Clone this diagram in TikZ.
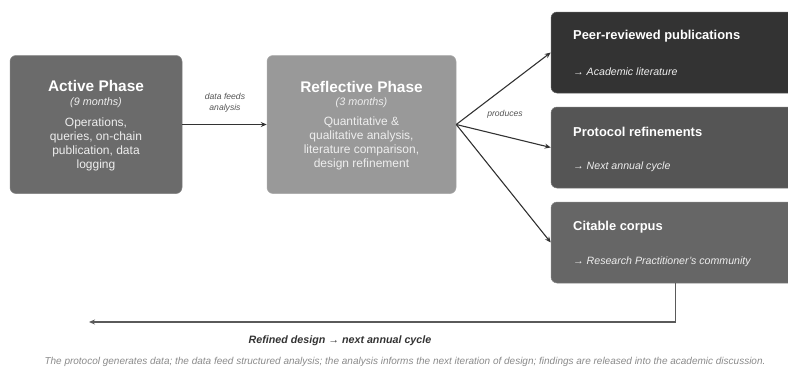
\documentclass[tikz,border=0pt]{standalone}
\usepackage{fontspec}
\setmainfont{Liberation Sans}
\usetikzlibrary{arrows.meta}
\definecolor{cActive}{HTML}{6B6B6B}
\definecolor{cReflect}{HTML}{999999}
\definecolor{cPeer}{HTML}{333333}
\definecolor{cProto}{HTML}{555555}
\definecolor{cCite}{HTML}{666666}
\definecolor{cArrow}{HTML}{333333}
\definecolor{cFeed}{HTML}{5A5A5A}
\definecolor{cLabel}{HTML}{555555}
\definecolor{cCaption}{HTML}{8A8A8A}
\definecolor{cSoft}{HTML}{EEEEEE}
\tikzset{
  phasebox/.style={rectangle, rounded corners=6pt, inner sep=0pt, draw=#1!85!white, line width=0.5pt, fill=#1},
  outbox/.style={rectangle, rounded corners=6pt, inner sep=0pt, draw=#1!80!white, line width=0.5pt, fill=#1, minimum width=249pt, minimum height=81pt},
  phasetitle/.style={inner sep=0pt, text=white, font=\fontsize{15.4}{18}\selectfont\bfseries},
  phasemonths/.style={inner sep=0pt, text=cSoft, font=\fontsize{10.8}{12}\selectfont\itshape},
  phasebody/.style={inner sep=0pt, text=cSoft, align=center, font=\fontsize{12}{13.9}\selectfont},
  outtitle/.style={inner sep=0pt, anchor=west, text=white, font=\fontsize{12.9}{15}\selectfont\bfseries},
  outsub/.style={inner sep=0pt, anchor=west, text=cSoft, font=\fontsize{10.6}{12}\selectfont\itshape},
  edgelabel/.style={inner sep=0pt, text=cLabel, align=center, font=\fontsize{8.6}{11.5}\selectfont\itshape},
  arr/.style={draw=cArrow, line width=1.1pt, -{Stealth[length=6pt,width=5pt]}},
  feed/.style={draw=cFeed, line width=1.6pt, -{Stealth[length=6pt,width=5pt]}},
}
\begin{document}
\begin{tikzpicture}[x=1pt,y=-1pt]
\clip (0,0) rectangle (788,367);
\useasboundingbox (0,0) rectangle (788,367);

% phase boxes
\node[phasebox=cActive, minimum width=172pt, minimum height=138pt] (active) at (96,124.5) {};
\node[phasetitle] (activeTitle) at (96,85.5) {Active Phase};
\node[phasemonths] (activeMonths) at (96,103) {(9 months)};
\node[phasebody] (activeBody) at (96,144.5) {Operations,\\queries, on-chain\\publication, data\\logging};

\node[phasebox=cReflect, minimum width=189pt, minimum height=138pt] (reflect) at (361.5,124.5) {};
\node[phasetitle] (reflectTitle) at (361.5,86.5) {Reflective Phase};
\node[phasemonths] (reflectMonths) at (361.5,103) {(3 months)};
\node[phasebody] (reflectBody) at (361.5,143.5) {Quantitative \&\\qualitative analysis,\\literature comparison,\\design refinement};

% output boxes
\node[outbox=cPeer] (peer) at (675.5,52.5) {};
\node[outtitle] (peerTitle) at (573,36) {Peer-reviewed publications};
\node[outsub] (peerSub) at (573,72) {→ Academic literature};

\node[outbox=cProto] (proto) at (675.5,147.5) {};
\node[outtitle] (protoTitle) at (573,132) {Protocol refinements};
\node[outsub] (protoSub) at (573,167) {→ Next annual cycle};

\node[outbox=cCite] (cite) at (675.5,242.5) {};
\node[outtitle] (citeTitle) at (573,227) {Citable corpus};
\node[outsub] (citeSub) at (573,262) {→ Research Practitioner's community};

% connectors
\draw[arr] (active.east) -- (reflect.west);
\node[edgelabel] (feedsLabel) at (225,103) {data feeds\\analysis};
\draw[arr] (reflect.east) -- (peer.west);
\draw[arr] (reflect.east) -- (proto.west);
\draw[arr] (reflect.east) -- (cite.west);
\node[edgelabel] (producesLabel) at (505,114) {produces};

\coordinate (feedEnd) at (89,322);
\draw[feed] (cite.south) |- (feedEnd);

\node[inner sep=0pt, text=cArrow, font=\fontsize{10.7}{12}\selectfont\bfseries\itshape] (refined) at (340,341) {Refined design → next annual cycle};
\node[inner sep=0pt, text=cCaption, font=\fontsize{10}{11}\selectfont\itshape] (caption) at (405,362) {The protocol generates data; the data feed structured analysis; the analysis informs the next iteration of design; findings are released into the academic discussion.};
\end{tikzpicture}
\end{document}
